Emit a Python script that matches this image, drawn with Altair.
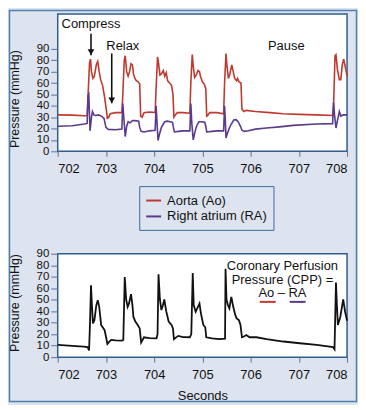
import altair as alt
import pandas as pd

# ---------------- data ----------------
ao_t = [702.00, 702.30, 702.55, 702.61, 702.63, 702.66, 702.68, 702.70, 702.73, 702.76, 702.80, 702.83,
        702.86, 702.89, 702.93, 702.97, 703.01, 703.03, 703.06, 703.09, 703.20, 703.33,
        703.35, 703.38, 703.40, 703.43, 703.46, 703.49, 703.52, 703.55, 703.57, 703.60, 703.63, 703.67,
        703.70, 703.72, 703.75, 703.79, 703.90, 704.02,
        704.04, 704.07, 704.09, 704.12, 704.15, 704.19, 704.22, 704.25, 704.28, 704.32, 704.36, 704.39,
        704.41, 704.44, 704.48, 704.60, 704.74,
        704.76, 704.79, 704.81, 704.84, 704.87, 704.91, 704.94, 704.96, 705.00, 705.04, 705.07, 705.09,
        705.12, 705.15, 705.30, 705.44,
        705.46, 705.49, 705.51, 705.54, 705.57, 705.61, 705.64, 705.67, 705.71, 705.73, 705.76, 705.80,
        705.82, 705.86, 705.91, 706.10, 706.40, 706.67, 707.00, 707.36, 707.70,
        707.72, 707.75, 707.77, 707.80, 707.84, 707.87, 707.90, 707.93, 707.96, 708.00]
ao_v = [32.0, 31.8, 31.2, 31.5, 50, 78, 81, 70, 64, 66, 76, 79,
        70, 63, 58, 48, 36, 29, 30, 33, 34, 34,
        50, 80, 84, 70, 66, 70, 77, 76, 68, 64, 62, 61,
        59, 31, 30, 34, 34.5, 34,
        55, 83, 78, 67, 68, 71, 66, 69, 62, 60, 58, 50,
        30, 32, 34, 34, 33.5,
        60, 85, 75, 65, 67, 71, 70, 66, 61, 59, 55, 31,
        32, 34, 34, 33,
        60, 86, 75, 64, 68, 76, 70, 64, 62, 64, 61, 60,
        37, 35, 36, 35, 34, 33, 32.5, 32, 31.5,
        40, 84, 85, 72, 63, 63, 76, 81, 75, 66]

ra_t = [702.00, 702.30, 702.55, 702.61, 702.63, 702.645, 702.67, 702.70, 702.72, 702.75, 702.78, 702.85,
        702.92, 702.96, 703.00, 703.05, 703.20, 703.33,
        703.35, 703.37, 703.40, 703.43, 703.46, 703.50, 703.55, 703.60, 703.68, 703.70, 703.73, 703.79,
        703.90, 704.02,
        704.04, 704.06, 704.08, 704.11, 704.15, 704.19, 704.22, 704.27, 704.33, 704.38, 704.40, 704.42,
        704.50, 704.60, 704.74,
        704.76, 704.78, 704.81, 704.84, 704.87, 704.90, 704.93, 704.98, 705.05, 705.07, 705.09, 705.20,
        705.30, 705.44,
        705.46, 705.475, 705.49, 705.52, 705.56, 705.60, 705.65, 705.70, 705.74, 705.79, 705.82, 705.87,
        705.95, 706.10, 706.33, 706.60, 706.88, 707.36, 707.70,
        707.72, 707.74, 707.77, 707.80, 707.84, 707.87, 707.92, 708.00]
ra_v = [22.0, 22.5, 24, 24.5, 49, 50, 18, 30, 35, 32, 31.5, 32,
        30.5, 29, 21, 19.3, 19, 19.5,
        42, 30, 13, 22, 26, 25, 27, 27, 26.5, 21, 17.5, 17,
        18, 18.5,
        40, 25, 9.5, 15, 21, 24, 26, 26.5, 26, 25.5, 21, 17,
        17.5, 18, 18,
        42, 25, 10, 16, 21, 24, 26, 26, 25.5, 22, 17, 17.5,
        18, 18,
        40, 28, 11.7, 16, 20.5, 24, 27.5, 27.8, 26, 22, 18.5, 17.5,
        18, 19.5, 20.5, 21.5, 22.8, 24, 24.3,
        43, 32, 20.5, 27, 35, 31, 32, 32]

cpp_t = [702.00, 702.30, 702.54, 702.62, 702.65, 702.67, 702.69, 702.71, 702.73, 702.76, 702.80, 702.83,
         702.86, 702.90, 702.97, 703.00, 703.03, 703.07, 703.11, 703.20, 703.33,
         703.36, 703.39, 703.42, 703.45, 703.48, 703.52, 703.55, 703.57, 703.61, 703.66, 703.70, 703.73,
         703.76, 703.79, 703.90, 704.05,
         704.07, 704.09, 704.12, 704.15, 704.18, 704.21, 704.25, 704.30, 704.36, 704.39, 704.41, 704.45,
         704.50, 704.60, 704.74,
         704.77, 704.80, 704.82, 704.86, 704.91, 704.94, 704.97, 705.02, 705.06, 705.08, 705.20, 705.35,
         705.47,
         705.48, 705.50, 705.53, 705.56, 705.60, 705.64, 705.68, 705.71, 705.76, 705.79, 705.82, 705.86,
         705.91, 705.98, 706.12, 706.33, 706.68, 707.02, 707.37, 707.71, 707.74,
         707.77, 707.79, 707.81, 707.86, 707.92, 707.96, 708.00]
cpp_v = [10.7, 9.8, 9.2, 8.7, 5.8, 30, 62.6, 45, 29.4, 32, 45, 49.6,
         44, 28, 23.7, 18, 11.5, 13.5, 15, 14.6, 14.4,
         15, 69.8, 50, 43.8, 47, 54.8, 45, 35, 30.9, 28, 25, 12.7,
         15, 17.3, 16.5, 16.4,
         20, 72.1, 50, 41, 45, 50.2, 40, 31, 28, 25, 15.6, 17,
         18.5, 17.5, 17.3,
         20, 73.3, 45.3, 39.5, 44, 46.7, 38, 28, 26, 17.3, 16.4, 15.6,
         16,
         77, 50, 45.3, 42.4, 52.5, 43.8, 37, 33.7, 32, 28, 17.3, 18,
         19.3, 17.3, 17.3, 15.6, 13.6, 12.1, 10.7, 8.7, 6.9,
         65, 45, 28, 35, 50.2, 39.5, 31.7]

series_names = ["Aorta (Ao)", "Right atrium (RA)"]
series_colors = ["#c0392f", "#5a3a8c"]
x_ticks = [702, 703, 704, 705, 706, 707, 708]
y_ticks = [0, 10, 20, 30, 40, 50, 60, 70, 80, 90]

# annotations (top panel)
arrow_x = [702.69, 703.12]
arrow_top = [103.4, 86.0]
arrow_tip = [84.5, 42.2]
top_labels = ["Compress", "Relax", "Pause"]
top_label_x = [702.69, 703.35, 706.74]
top_label_y = [111.6, 92.4, 92.4]

# annotations (bottom panel)
cpp_lines = ["Coronary Perfusion", "Pressure (CPP) =", "Ao \u2013 RA"]
cpp_line_x = [706.66, 706.66, 706.66]
cpp_line_y = [79.2, 67.5, 55.4]
underline_x = [706.19, 706.81]
underline_x2 = [706.52, 707.14]
underline_y = [48.1, 48.1]

FONT = "Liberation Sans"
TICK_COLOR = "#5d7290"

# ---------------- tables ----------------
top_df = pd.concat([
    pd.DataFrame({"t": ao_t, "p": ao_v, "series": series_names[0]}),
    pd.DataFrame({"t": ra_t, "p": ra_v, "series": series_names[1]}),
])
cpp_df = pd.DataFrame({"t": cpp_t, "p": cpp_v})
arrow_df = pd.DataFrame({"x": arrow_x, "top": arrow_top, "tip": arrow_tip})
tl_df = pd.DataFrame({"x": top_label_x, "y": top_label_y, "label": top_labels})
cl_df = pd.DataFrame({"x": cpp_line_x, "y": cpp_line_y, "label": cpp_lines})
ul_df = pd.DataFrame({"x": underline_x, "x2": underline_x2, "y": underline_y, "c": series_colors})

xscale = alt.Scale(domain=[702, 708], nice=False, zero=False)
yscale_top = alt.Scale(domain=[0, 120.6], nice=False, zero=False)
yscale_bot = alt.Scale(domain=[0, 90], nice=False, zero=False)


def xaxis(title):
    kw = dict(values=x_ticks, format="d", labelFontSize=13, labelFont=FONT, labelColor="#111",
              tickSize=5, tickColor=TICK_COLOR, labelPadding=6, domain=False, grid=False)
    if title:
        kw.update(title=title, titleFontSize=13, titleFont=FONT, titleFontWeight="normal",
                  titleColor="#111", titlePadding=9)
    else:
        kw.update(title=None)
    return alt.Axis(**kw)


def yaxis(title_y, fs):
    return alt.Axis(values=y_ticks, labelFontSize=fs, labelFont=FONT, labelColor="#111",
                    tickSize=7, tickColor=TICK_COLOR, labelPadding=2, domain=False, grid=False,
                    labelOverlap=False, labelFlush=False,
                    title="Pressure (mmHg)", titleFontSize=12.5, titleFont=FONT,
                    titleFontWeight="normal", titleColor="#111",
                    titleX=-36, titleY=title_y, titleBaseline="bottom", titleAngle=270)


XT = xaxis(None)
YT = yaxis(85, 11.4)
XB = xaxis("Seconds")
YB = yaxis(49, 11.5)

# ---------------- top panel ----------------
lines = alt.Chart(top_df).mark_line(strokeWidth=1.6).encode(
    x=alt.X("t:Q", scale=xscale, axis=XT),
    y=alt.Y("p:Q", scale=yscale_top, axis=YT),
    color=alt.Color("series:N",
                    scale=alt.Scale(domain=series_names, range=series_colors),
                    legend=alt.Legend(orient="none", legendX=82, legendY=173, title=None,
                                      strokeColor="#3b6a9c", padding=6, symbolType="stroke",
                                      symbolSize=225, symbolStrokeWidth=2, labelFontSize=13,
                                      labelFont=FONT, labelColor="#111", labelOffset=5,
                                      rowPadding=0)),
    detail="series:N",
    order="t:Q",
)

arrow_shaft = alt.Chart(arrow_df).mark_rule(color="#111", strokeWidth=1.6).encode(
    x=alt.X("x:Q", scale=xscale, axis=XT),
    y=alt.Y("top:Q", scale=yscale_top, axis=YT),
    y2="tip:Q")
arrow_head = alt.Chart(arrow_df).mark_point(shape="triangle-down", filled=True, color="#111",
                                            size=45, opacity=1, yOffset=-3).encode(
    x=alt.X("x:Q", scale=xscale, axis=XT),
    y=alt.Y("tip:Q", scale=yscale_top, axis=YT))
top_text = alt.Chart(tl_df).mark_text(fontSize=13, font=FONT, color="#111").encode(
    x=alt.X("x:Q", scale=xscale, axis=XT),
    y=alt.Y("y:Q", scale=yscale_top, axis=YT),
    text="label:N")

frame = alt.Chart(pd.DataFrame({"a": [0]})).mark_rect(
    fillOpacity=0, stroke="#4f7fb0", strokeWidth=1.5).encode(
    x=alt.value(-48.5), x2=alt.value(300.5), y=alt.value(-3.5), y2=alt.value(389.5))

top = alt.layer(lines, arrow_shaft, arrow_head, top_text, frame).properties(width=291, height=138)

# ---------------- bottom panel ----------------
cpp_line = alt.Chart(cpp_df).mark_line(color="#111", strokeWidth=1.8).encode(
    x=alt.X("t:Q", scale=xscale, axis=XB),
    y=alt.Y("p:Q", scale=yscale_bot, axis=YB),
    order="t:Q",
)
cpp_text = alt.Chart(cl_df).mark_text(fontSize=13, font=FONT, color="#111").encode(
    x=alt.X("x:Q", scale=xscale, axis=XB),
    y=alt.Y("y:Q", scale=yscale_bot, axis=YB),
    text="label:N")
underline = alt.Chart(ul_df).mark_rule(strokeWidth=2).encode(
    x=alt.X("x:Q", scale=xscale, axis=XB),
    x2="x2:Q",
    y=alt.Y("y:Q", scale=yscale_bot, axis=YB),
    color=alt.Color("c:N", scale=None, legend=None))

bottom = alt.layer(cpp_line, cpp_text, underline).properties(width=291, height=104)

chart = alt.vconcat(top, bottom, spacing=103, bounds="flush").properties(
    padding=0, background="#dde4ef"
).configure_view(
    fill="white", stroke="#2f5d8e", strokeWidth=1.5
).resolve_scale(color="independent")

chart.save("out.html", embed_options={"renderer": "svg", "actions": False})
